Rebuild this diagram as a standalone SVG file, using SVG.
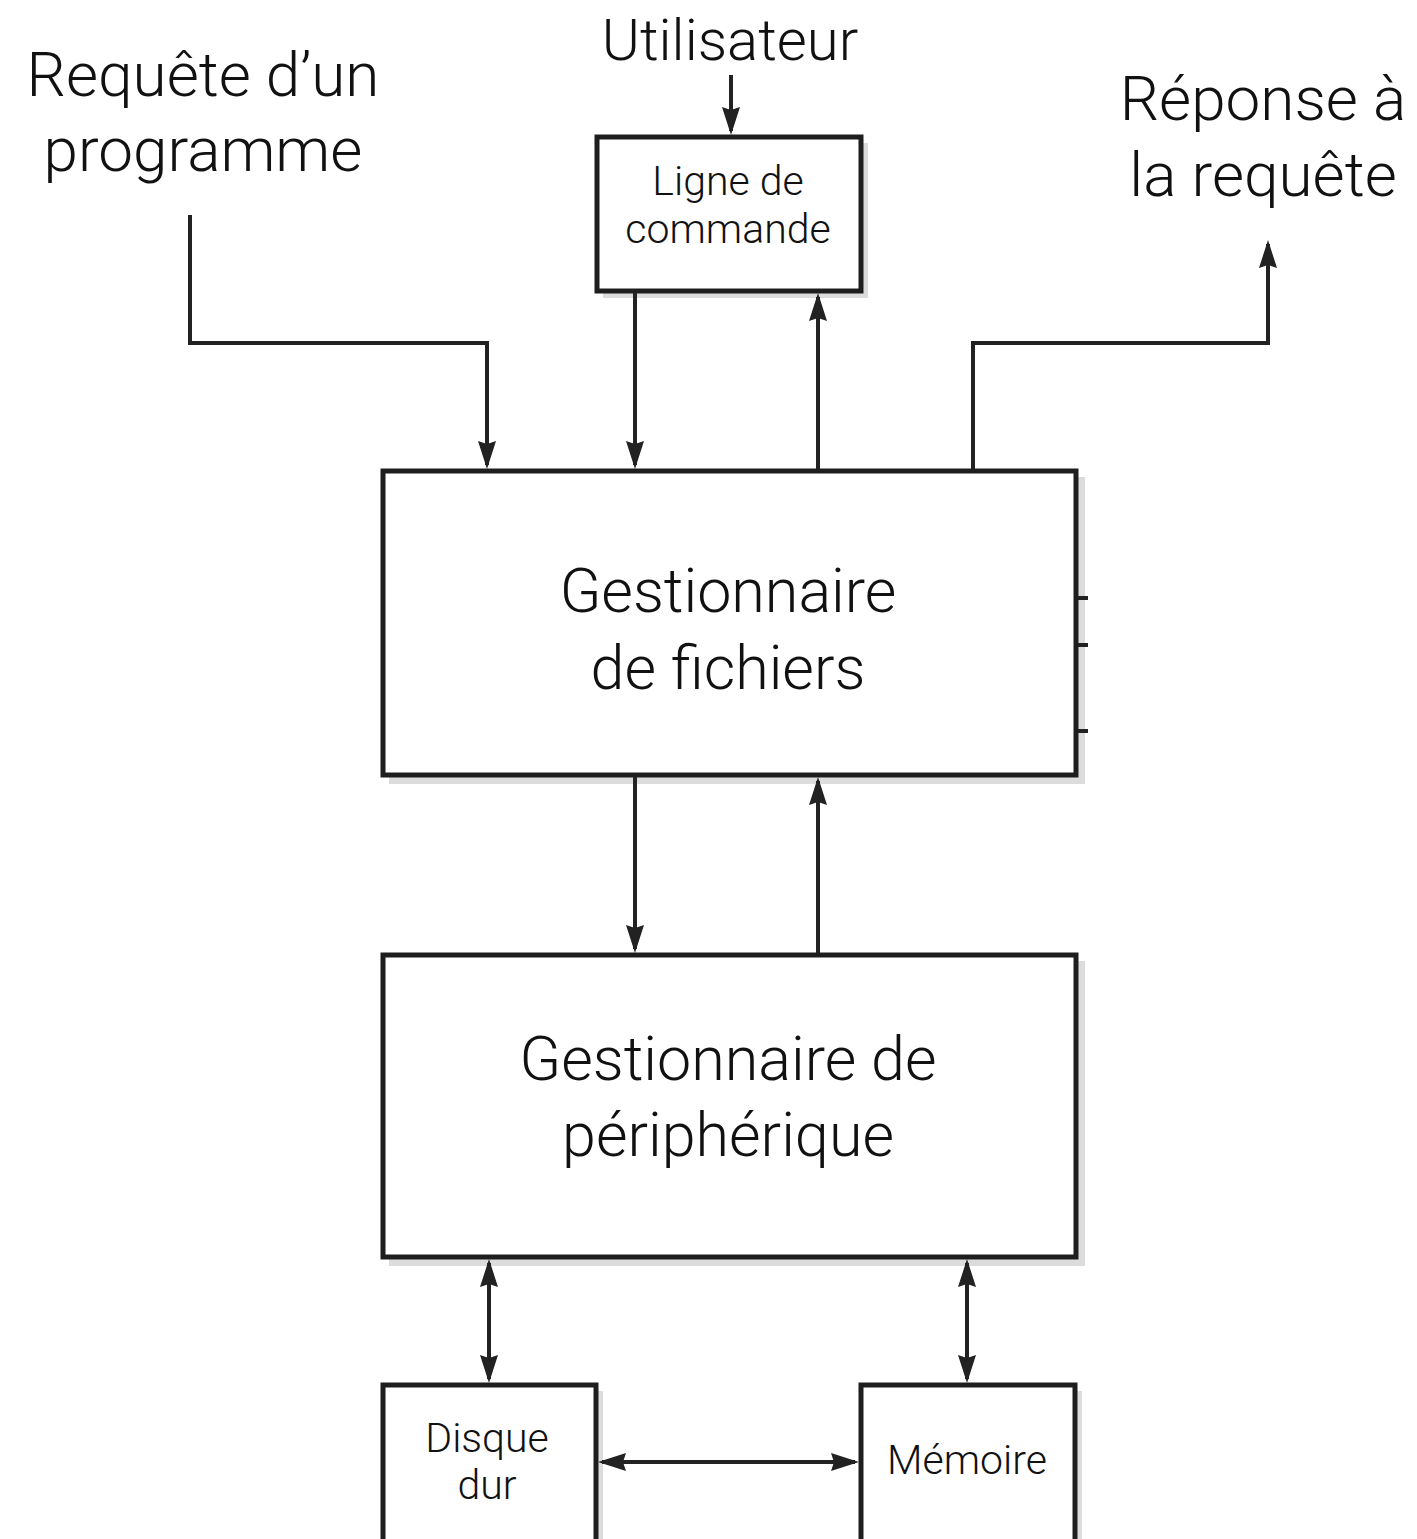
<svg xmlns="http://www.w3.org/2000/svg" width="1417" height="1539" viewBox="0 0 1417 1539">
<style>
.box{fill:#fff;stroke:#1e1e1e;stroke-width:5}
.shadow{fill:#dcdcdc}
.ln{fill:none;stroke:#222;stroke-width:4}
.t{font-family:Roboto,"Liberation Sans",sans-serif;font-weight:300;fill:#111;text-anchor:middle}
.big{font-size:62px}
.mid{font-size:61px}
.sm{font-size:41px}
</style>
<defs>
<marker id="ah" viewBox="0 0 28 18" refX="24" refY="9" markerWidth="28" markerHeight="18" markerUnits="userSpaceOnUse" orient="auto-start-reverse">
<path d="M0,0 L28,9 L0,18 L3,9 z" fill="#222"/>
</marker>
</defs>
<rect width="1417" height="1539" fill="#fff"/>
<g id="ligne-de-commande">
<rect class="shadow" x="603" y="143" width="265" height="155"/>
<rect class="box" x="597" y="137" width="264" height="154"/>
<text class="t sm" x="728" y="195">Ligne de</text>
<text class="t sm" x="728" y="243">commande</text>
</g>
<g id="gestionnaire-fichiers">
<rect class="shadow" x="389" y="477" width="696" height="307"/>
<rect class="box" x="383" y="471" width="693" height="304"/>
<text class="t mid" x="728" y="612">Gestionnaire</text>
<text class="t mid" x="728" y="689">de fichiers</text>
</g>
<g id="gestionnaire-peripherique">
<rect class="shadow" x="389" y="961" width="696" height="305"/>
<rect class="box" x="383" y="955" width="693" height="302"/>
<text class="t mid" x="728" y="1080">Gestionnaire de</text>
<text class="t mid" x="728" y="1156">périphérique</text>
</g>
<g id="disque-dur">
<rect class="shadow" x="389" y="1391" width="214" height="160"/>
<rect class="box" x="383" y="1385" width="213" height="160"/>
<text class="t sm" x="487" y="1452">Disque</text>
<text class="t sm" x="487" y="1499">dur</text>
</g>
<g id="memoire">
<rect class="shadow" x="867" y="1391" width="215" height="160"/>
<rect class="box" x="861" y="1385" width="214" height="160"/>
<text class="t sm" x="967" y="1474">Mémoire</text>
</g>
<g id="utilisateur">
<text class="t" style="font-size:58px" x="730" y="60">Utilisateur</text>
</g>
<g id="requete">
<text class="t big" x="203" y="96">Requête d’un</text>
<text class="t big" x="203" y="171">programme</text>
</g>
<g id="reponse">
<text class="t big" x="1263" y="120">Réponse à</text>
<text class="t big" x="1263" y="196">la requête</text>
</g>
<g id="connectors">
<line class="ln" x1="731" y1="75" x2="731" y2="131" marker-end="url(#ah)"/>
<polyline class="ln" points="190,215 190,343 487,343 487,465" marker-end="url(#ah)"/>
<line class="ln" x1="635" y1="293" x2="635" y2="465" marker-end="url(#ah)"/>
<line class="ln" x1="818" y1="469" x2="818" y2="297" marker-end="url(#ah)"/>
<polyline class="ln" points="973,469 973,343 1268,343 1268,244" marker-end="url(#ah)"/>
<line class="ln" x1="635" y1="777" x2="635" y2="949" marker-end="url(#ah)"/>
<line class="ln" x1="818" y1="953" x2="818" y2="781" marker-end="url(#ah)"/>
<line class="ln" x1="489" y1="1263" x2="489" y2="1379" marker-start="url(#ah)" marker-end="url(#ah)"/>
<line class="ln" x1="967" y1="1263" x2="967" y2="1379" marker-start="url(#ah)" marker-end="url(#ah)"/>
<line class="ln" x1="602" y1="1462" x2="855" y2="1462" marker-start="url(#ah)" marker-end="url(#ah)"/>
<line class="ln" x1="1078" y1="598" x2="1088" y2="598"/>
<line class="ln" x1="1078" y1="645" x2="1088" y2="645"/>
<line class="ln" x1="1078" y1="731" x2="1088" y2="731"/>
</g>
</svg>
